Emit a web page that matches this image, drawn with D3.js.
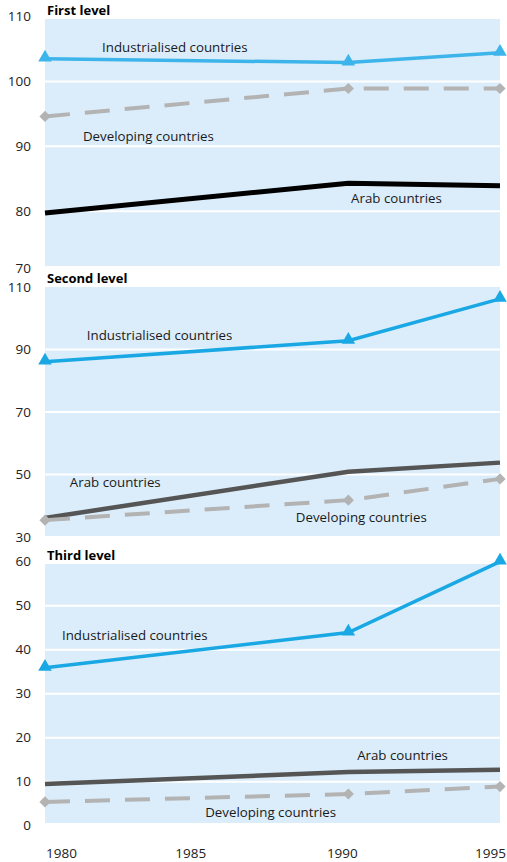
<!DOCTYPE html>
<html>
<head>
<meta charset="utf-8">
<script src="https://cdn.jsdelivr.net/npm/d3@7"></script>
<style>
  html, body { margin: 0; padding: 0; background: #fff; }
  svg { display: block; }
  text { font-family: "Open Sans", "Noto Sans", sans-serif; }
</style>
</head>
<body>
<svg id="chart" width="507" height="862"></svg>
<script>
// ---- Data ----
const years = [1980, 1990, 1995];
const xTickLabels = [1980, 1985, 1990, 1995];
const seriesNames = ["Industrialised countries", "Developing countries", "Arab countries"];
const panelTitles = ["First level", "Second level", "Third level"];

const firstIndustrialised = [103.5, 102.9, 104.4];
const firstDeveloping     = [94.6, 98.9, 98.9];
const firstArab           = [79.7, 84.3, 83.9];

const secondIndustrialised = [86.1, 92.8, 106.2];
const secondDeveloping     = [35.4, 41.8, 48.6];
const secondArab           = [36.1, 50.9, 53.8];

const thirdIndustrialised = [35.9, 43.9, 60.0];
const thirdDeveloping     = [5.4, 7.2, 8.9];
const thirdArab           = [9.5, 12.2, 12.7];

const firstTicks  = [70, 80, 90, 100, 110];
const secondTicks = [30, 50, 70, 90, 110];
const thirdTicks  = [0, 10, 20, 30, 40, 50, 60];

// ---- Layout ----
const svg = d3.select("#chart");
const x = d3.scaleLinear().domain([1980, 1995]).range([45, 500]);

const panels = [
  { title: panelTitles[0], ticks: firstTicks, domain: [70, 110], range: [276, 16.5], bgTop: 19, bgBottom: 266, titleY: 10,
    ind: firstIndustrialised, dev: firstDeveloping, arab: firstArab,
    indColor: "#3db4ea", arabColor: "#000000", arabWidth: 5,
    labels: { ind: [1981.88, 105.3], dev: [1981.25, 91.46], arab: [1990.09, 81.9] } },
  { title: panelTitles[1], ticks: secondTicks, domain: [30, 110], range: [537, 287], bgTop: 287, bgBottom: 536, titleY: 278,
    ind: secondIndustrialised, dev: secondDeveloping, arab: secondArab,
    indColor: "#1aa8e4", arabColor: "#555555", arabWidth: 4.5,
    labels: { ind: [1981.38, 94.6], dev: [1988.27, 36.4], arab: [1980.82, 47.6] } },
  { title: panelTitles[2], ticks: thirdTicks, domain: [0, 60], range: [825.7, 561.7], bgTop: 564, bgBottom: 823, titleY: 555,
    ind: thirdIndustrialised, dev: thirdDeveloping, arab: thirdArab,
    indColor: "#1aa8e4", arabColor: "#555555", arabWidth: 4.5,
    labels: { ind: [1980.56, 43.3], dev: [1985.28, 3.1], arab: [1990.29, 16.1] } }
];

panels.forEach(p => {
  const y = d3.scaleLinear().domain(p.domain).range(p.range);
  const g = svg.append("g");

  // background
  g.append("rect")
    .attr("x", x(1980)).attr("y", p.bgTop)
    .attr("width", x(1995) - x(1980)).attr("height", p.bgBottom - p.bgTop)
    .attr("fill", "#dbedfa");

  // gridlines (inner ticks)
  g.selectAll("line.grid")
    .data(p.ticks.filter(t => y(t) > p.bgTop + 1 && y(t) < p.bgBottom - 1))
    .join("line")
    .attr("x1", x(1980)).attr("x2", x(1995))
    .attr("y1", d => y(d)).attr("y2", d => y(d))
    .attr("stroke", "#fff").attr("stroke-width", 2);

  // y tick labels
  g.selectAll("text.tick")
    .data(p.ticks)
    .join("text")
    .attr("x", 31)
    .attr("y", d => Math.min(y(d), p.bgBottom + 2))
    .attr("dy", "0.35em")
    .attr("text-anchor", "end")
    .attr("font-size", 13.5)
    .attr("fill", "#222")
    .text(d => d);

  // title
  g.append("text")
    .attr("x", 47).attr("y", p.titleY).attr("dy", "0.35em")
    .attr("font-size", 13).attr("font-weight", "bold").attr("fill", "#000")
    .text(p.title);

  const line = d3.line().x((d, i) => x(years[i])).y(d => y(d));

  // Arab
  g.append("path").datum(p.arab)
    .attr("d", line).attr("fill", "none")
    .attr("stroke", p.arabColor).attr("stroke-width", p.arabWidth);

  // Developing
  g.append("path").datum(p.dev)
    .attr("d", line).attr("fill", "none")
    .attr("stroke", "#b3b3b3").attr("stroke-width", 4)
    .attr("stroke-dasharray", "25,15");
  g.selectAll("path.diamond")
    .data(p.dev)
    .join("path")
    .attr("d", d3.symbol(d3.symbolDiamond2, 80))
    .attr("transform", (d, i) => `translate(${x(years[i])},${y(d)})`)
    .attr("fill", "#b3b3b3");

  // Industrialised
  g.append("path").datum(p.ind)
    .attr("d", line).attr("fill", "none")
    .attr("stroke", p.indColor).attr("stroke-width", 3.5);
  g.selectAll("path.tri")
    .data(p.ind)
    .join("path")
    .attr("d", d3.symbol(d3.symbolTriangle, 80))
    .attr("transform", (d, i) => `translate(${x(years[i])},${y(d) - 1})`)
    .attr("fill", p.indColor);

  // series labels
  const lab = [["ind", seriesNames[0]], ["dev", seriesNames[1]], ["arab", seriesNames[2]]];
  lab.forEach(([k, name]) => {
    g.append("text")
      .attr("x", x(p.labels[k][0])).attr("y", y(p.labels[k][1]))
      .attr("dy", "0.35em")
      .attr("font-size", 13.3).attr("fill", "#1a1a1a")
      .text(name);
  });
});

// x-axis labels
const last = xTickLabels.length - 1;
svg.selectAll("text.xlab")
  .data(xTickLabels)
  .join("text")
  .attr("x", (d, i) => i === 0 ? x(d) + 1 : (i === last ? 506 : x(d) - 6))
  .attr("y", 853).attr("dy", "0.35em")
  .attr("text-anchor", (d, i) => i === 0 ? "start" : (i === last ? "end" : "middle"))
  .attr("font-size", 13.5).attr("fill", "#222")
  .text(d => d);
</script>
</body>
</html>
